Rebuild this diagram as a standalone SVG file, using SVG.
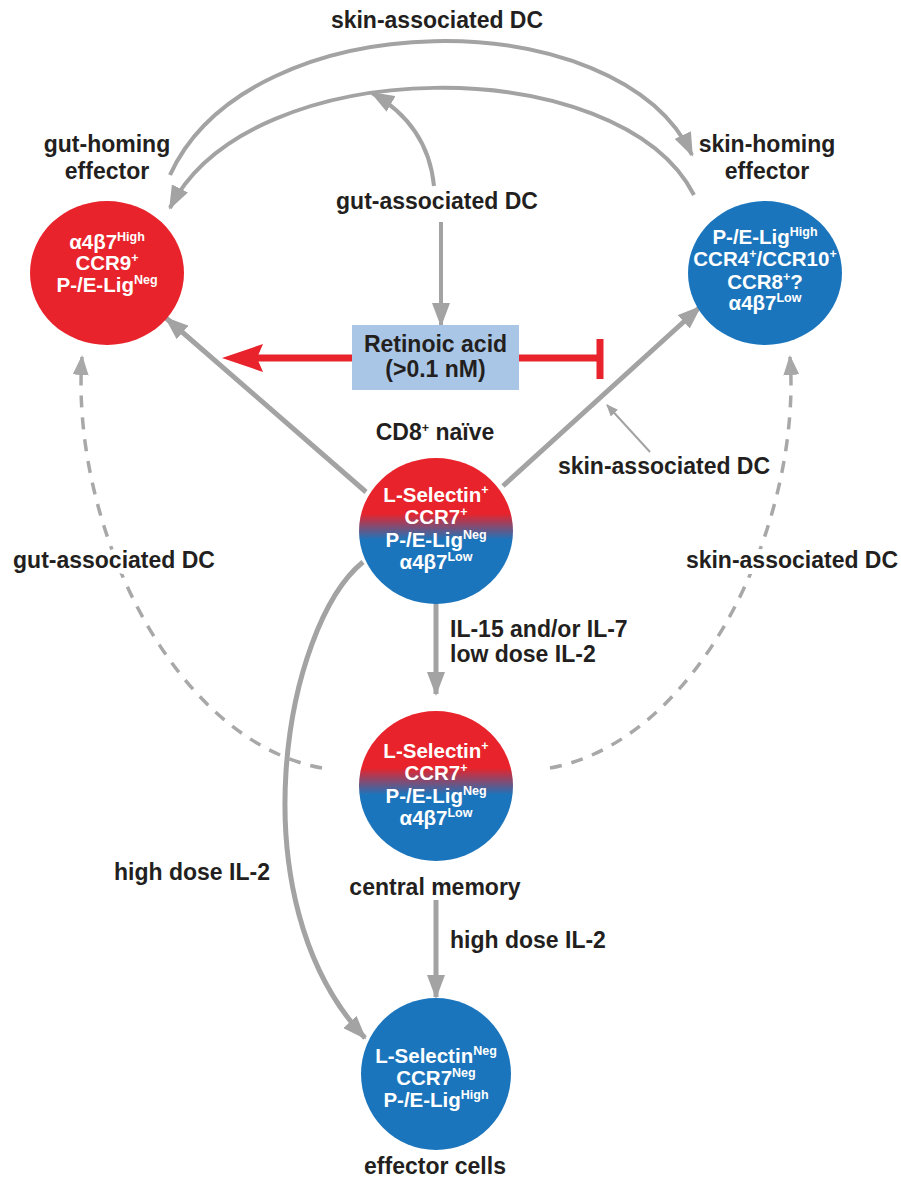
<svg xmlns="http://www.w3.org/2000/svg" width="901" height="1180" viewBox="0 0 901 1180">
<style>
.lbl{font-family:"Liberation Sans",Arial,Helvetica,sans-serif;font-weight:bold;font-size:23px;fill:#231f20;text-anchor:middle}
.cell{font-family:"Liberation Sans",Arial,Helvetica,sans-serif;font-weight:bold;font-size:20.5px;fill:#ffffff;text-anchor:middle}
.sup{font-size:12.5px}
.conn{fill:none;stroke:#a3a3a3;stroke-width:5}
.arc{fill:none;stroke:#a3a3a3;stroke-width:4}
.dash{fill:none;stroke:#a8a8a8;stroke-width:3.5;stroke-dasharray:12 10}
.thin{fill:none;stroke:#a3a3a3;stroke-width:2}
.halo{paint-order:stroke;stroke:#ffffff;stroke-width:12px;stroke-linejoin:round}
.red{fill:#e8232b}
.blue{fill:#1b75bc}
</style>
<defs>
<marker id="ag" markerUnits="userSpaceOnUse" markerWidth="24" markerHeight="18" refX="22" refY="9" orient="auto"><path d="M0,0 L24,9 L0,18 Z" fill="#a3a3a3"/></marker>
<marker id="ad" markerUnits="userSpaceOnUse" markerWidth="20" markerHeight="16" refX="18" refY="8" orient="auto"><path d="M0,0 L20,8 L0,16 Z" fill="#a8a8a8"/></marker>
<marker id="at" markerUnits="userSpaceOnUse" markerWidth="12" markerHeight="10" refX="11" refY="5" orient="auto"><path d="M0,0 L12,5 L0,10 Z" fill="#a3a3a3"/></marker>
<linearGradient id="rb" x1="0" y1="0" x2="0" y2="1">
<stop offset="0.38" stop-color="#e8232b"/>
<stop offset="0.56" stop-color="#1b75bc"/>
</linearGradient>
</defs>

<g id="connectors">
<path class="arc" d="M170,175 C250,0 620,0 692,155" marker-end="url(#ag)"/>
<path class="arc" d="M694,195 C620,50 250,50 170,208" marker-end="url(#ag)"/>
<path class="arc" d="M434,186 Q428,125 372,93" marker-end="url(#ag)"/>
<line class="arc" x1="441" y1="222" x2="441" y2="325" marker-end="url(#ag)"/>
<line class="conn" x1="366" y1="492" x2="166" y2="318" marker-end="url(#ag)"/>
<line class="conn" x1="503" y1="486" x2="700" y2="307" marker-end="url(#ag)"/>
<line class="thin" x1="650" y1="452" x2="607" y2="405" marker-end="url(#at)"/>
<line class="conn" x1="436" y1="603" x2="436" y2="694" marker-end="url(#ag)"/>
<line class="conn" x1="436" y1="900" x2="436" y2="997" marker-end="url(#ag)"/>
<path class="conn" d="M363,562 C285,625 235,900 365,1038" marker-end="url(#ag)"/>
<path class="dash" d="M322,768 C170,740 70,520 82,357" marker-end="url(#ad)"/>
<path class="dash" d="M550,768 C702,740 802,520 790,357" marker-end="url(#ad)"/>
<line x1="352" y1="358" x2="255" y2="358" stroke="#e8232b" stroke-width="7"/>
<polygon points="222,358 263,344 257,358 263,372" fill="#e8232b"/>
<line x1="519" y1="358" x2="598" y2="358" stroke="#e8232b" stroke-width="7"/>
<line x1="600" y1="339" x2="600" y2="379" stroke="#e8232b" stroke-width="7"/>
</g>

<g id="labels">
<text class="lbl" x="437" y="28">skin-associated DC</text>
<text class="lbl" x="107" y="152">gut-homing</text>
<text class="lbl" x="107" y="179">effector</text>
<text class="lbl" x="767" y="152">skin-homing</text>
<text class="lbl" x="767" y="179">effector</text>
<text class="lbl" x="437" y="209">gut-associated DC</text>
<text class="lbl" x="435" y="440">CD8<tspan class="sup" dy="-8">+</tspan><tspan dy="8"> naïve</tspan></text>
<text class="lbl" x="664" y="474">skin-associated DC</text>
<text class="lbl halo" x="114" y="568">gut-associated DC</text>
<text class="lbl halo" x="792" y="568">skin-associated DC</text>
<text class="lbl" x="450" y="637" style="text-anchor:start">IL-15 and/or IL-7</text>
<text class="lbl" x="450" y="662" style="text-anchor:start">low dose IL-2</text>
<text class="lbl" x="192" y="880">high dose IL-2</text>
<text class="lbl" x="435" y="895">central memory</text>
<text class="lbl" x="450" y="948" style="text-anchor:start">high dose IL-2</text>
<text class="lbl" x="435" y="1174">effector cells</text>
</g>

<g id="retinoic-acid">
<rect x="352" y="325" width="167" height="65" fill="#aac6e6"/>
<text class="lbl" x="435.5" y="352">Retinoic acid</text>
<text class="lbl" x="435.5" y="377">(&gt;0.1 nM)</text>
</g>

<g id="gut-homing-effector">
<ellipse class="red" cx="107" cy="273" rx="77" ry="72"/>
<text class="cell" x="107" y="249">α4β7<tspan class="sup" dy="-8">High</tspan></text>
<text class="cell" x="107" y="270">CCR9<tspan class="sup" dy="-8">+</tspan></text>
<text class="cell" x="107" y="292">P-/E-Lig<tspan class="sup" dy="-8">Neg</tspan></text>
</g>

<g id="skin-homing-effector">
<ellipse class="blue" cx="765" cy="273" rx="77" ry="72"/>
<text class="cell" x="765" y="244">P-/E-Lig<tspan class="sup" dy="-8">High</tspan></text>
<text class="cell" x="765" y="266">CCR4<tspan class="sup" dy="-8">+</tspan><tspan dy="8">/CCR10</tspan><tspan class="sup" dy="-8">+</tspan></text>
<text class="cell" x="765" y="289">CCR8<tspan class="sup" dy="-8">+</tspan><tspan dy="8">?</tspan></text>
<text class="cell" x="765" y="310">α4β7<tspan class="sup" dy="-8">Low</tspan></text>
</g>

<g id="cd8-naive">
<ellipse cx="436" cy="531" rx="77" ry="73" fill="url(#rb)"/>
<text class="cell" x="436" y="502">L-Selectin<tspan class="sup" dy="-8">+</tspan></text>
<text class="cell" x="436" y="524">CCR7<tspan class="sup" dy="-8">+</tspan></text>
<text class="cell" x="436" y="547">P-/E-Lig<tspan class="sup" dy="-8">Neg</tspan></text>
<text class="cell" x="436" y="569">α4β7<tspan class="sup" dy="-8">Low</tspan></text>
</g>

<g id="central-memory">
<ellipse cx="436" cy="786" rx="77" ry="75" fill="url(#rb)"/>
<text class="cell" x="436" y="758">L-Selectin<tspan class="sup" dy="-8">+</tspan></text>
<text class="cell" x="436" y="780">CCR7<tspan class="sup" dy="-8">+</tspan></text>
<text class="cell" x="436" y="803">P-/E-Lig<tspan class="sup" dy="-8">Neg</tspan></text>
<text class="cell" x="436" y="825">α4β7<tspan class="sup" dy="-8">Low</tspan></text>
</g>

<g id="effector-cells">
<ellipse class="blue" cx="436" cy="1074" rx="75" ry="76"/>
<text class="cell" x="436" y="1063">L-Selectin<tspan class="sup" dy="-8">Neg</tspan></text>
<text class="cell" x="436" y="1085">CCR7<tspan class="sup" dy="-8">Neg</tspan></text>
<text class="cell" x="436" y="1107">P-/E-Lig<tspan class="sup" dy="-8">High</tspan></text>
</g>
</svg>
